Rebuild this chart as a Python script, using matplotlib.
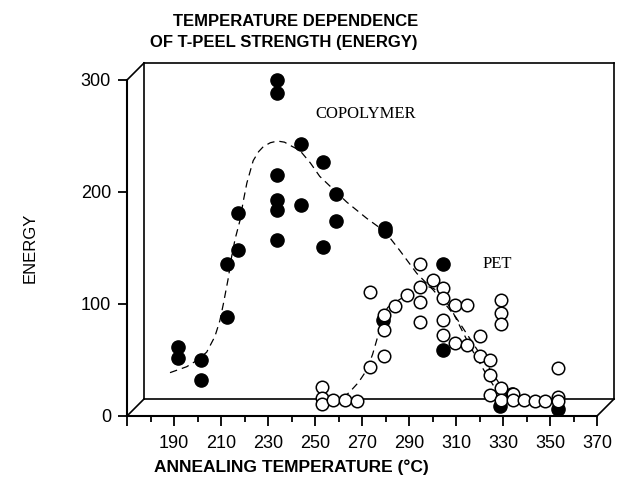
import matplotlib.pyplot as plt

plt.rcParams['font.family'] = ['Liberation Sans', 'DejaVu Sans']

# copolymer (filled circles)
copo_temp = [191.5, 191.5, 201.5, 201.5, 212.4, 212.4, 217.3, 217.3,
             233.7, 233.7, 233.7, 233.7, 233.7, 233.7, 244, 244,
             253.3, 253.3, 259, 259, 279.8, 279.8, 279, 304.6, 304.6,
             328.7, 334, 353.5]
copo_energy = [62, 52, 50, 32, 136, 88, 181, 148,
               300, 288, 215, 193, 184, 157, 243, 188,
               227, 151, 198, 174, 168, 165, 86, 136, 59,
               9, 20, 6]

# PET (open circles)
pet_temp = [252.8, 252.8, 252.8, 257.8, 262.8, 267.7, 273.4, 273.4,
            279.5, 279.5, 279.5, 284, 289, 294.7, 294.7, 294.7, 294.7,
            300.3, 304.6, 304.6, 304.6, 304.6, 309.6, 309.6, 314.6, 314.6,
            320.2, 320.2, 324.5, 324.5, 324.5, 329, 329, 329, 329, 329,
            334.2, 334.2, 339, 343.6, 348, 353.5, 353.5, 353.5]
pet_energy = [26, 16, 11, 14, 14, 13, 111, 44,
              90, 77, 54, 98, 108, 136, 115, 102, 84,
              121, 114, 105, 86, 72, 99, 65, 99, 63,
              71, 54, 50, 37, 19, 104, 92, 82, 25, 14,
              20, 14, 14, 13, 13, 43, 17, 13]

# dashed trend curves
copo_curve_t = [188.3, 195.4, 200, 203.9, 207.4, 209.5, 211, 213, 214.5, 216,
                218, 219.5, 221, 223.7, 226, 228, 231, 234, 237, 240, 243.6,
                248, 252, 258, 263.5, 272, 279.8, 286, 293.3, 300.3, 305,
                310, 315, 320, 325, 330, 334]
copo_curve_e = [38.7, 44, 50, 57, 71, 85, 100, 122, 142, 158,
                174, 192, 208, 228, 236, 240.5, 244, 245.5, 244.5, 241, 237,
                226, 214, 202, 191, 176.5, 164.6, 148, 127.4, 112.5, 101,
                88, 72, 56, 40, 24, 13]
pet_curve_t = [262, 265, 268.5, 272, 274.5, 276.3, 278, 279.5, 281, 283.3,
               286, 289, 292, 294.7, 297.5, 300.3, 302.5, 304.6, 306.8, 308.9,
               311.7, 314.6, 317.4, 320.2, 322.4, 324.5, 326.6, 328.7, 331.5, 334]
pet_curve_e = [16, 22, 30, 41, 55, 68, 82, 92, 97, 100.6,
               104, 108, 112, 115.4, 116, 114, 111, 106, 99, 91.7,
               80, 68, 57, 47, 39, 32, 25, 19, 15, 12]

xticks = list(range(170, 371, 20))
xlabels = [''] + [str(t) for t in range(190, 371, 20)]
yticks = [0, 100, 200, 300]

fig = plt.figure(figsize=(6.18, 4.83), dpi=100)
ax = fig.add_axes([127/618, 67/483, 470/618, 336/483])
ax.set_xlim(170, 370)
ax.set_ylim(0, 300)

for s in ['top', 'right']:
    ax.spines[s].set_visible(False)
for s in ['left', 'bottom']:
    ax.spines[s].set_linewidth(1.5)

# back panel of the pseudo 3d frame
dx, dy = 17/470, 17/336
edges = [[(dx, dy), (dx, 1+dy)], [(dx, 1+dy), (1+dx, 1+dy)],
         [(1+dx, 1+dy), (1+dx, dy)], [(dx, dy), (1+dx, dy)],
         [(0, 0), (dx, dy)], [(0, 1), (dx, 1+dy)], [(1, 0), (1+dx, dy)]]
for a, b in edges:
    ax.plot([a[0], b[0]], [a[1], b[1]], transform=ax.transAxes,
            clip_on=False, color='black', lw=1.2)

ax.plot(copo_curve_t, copo_curve_e, color='black', lw=0.9, ls=(0, (6, 4)), zorder=2)
ax.plot(pet_curve_t, pet_curve_e, color='black', lw=0.9, ls=(0, (6, 4)), zorder=2)
ax.plot(copo_temp, copo_energy, 'o', ms=9.5, mfc='black', mec='black',
        clip_on=False, zorder=3)
ax.plot(pet_temp, pet_energy, 'o', ms=9, mfc='white', mec='black', mew=1.1,
        clip_on=False, zorder=4)

ax.text(271.7, 269.6, 'COPOLYMER', family='Liberation Serif', fontsize=12,
        ha='center', va='center')
ax.text(327.4, 135.7, 'PET', family='Liberation Serif', fontsize=12,
        ha='center', va='center')

ax.set_xticks(xticks)
ax.set_xticklabels(xlabels)
ax.set_xticks(list(range(180, 361, 20)), minor=True)
ax.set_yticks(yticks)
ax.tick_params(axis='x', which='major', length=7, width=1.3, pad=7, labelsize=13)
ax.tick_params(axis='x', which='minor', length=4, width=1.3)
ax.tick_params(axis='y', which='major', length=6.5, width=1.3, pad=5, labelsize=13)

fig.text(418/618, 1 - 21/483, 'TEMPERATURE DEPENDENCE', fontsize=12,
         fontweight='bold', ha='right', va='center')
fig.text(150/618, 1 - 43/483, 'OF T-PEEL STRENGTH (ENERGY)', fontsize=12,
         fontweight='bold', ha='left', va='center')
fig.text(291/618, 1 - 467/483, 'ANNEALING TEMPERATURE (°C)', fontsize=12.5,
         fontweight='bold', ha='center', va='center')
fig.text(30/618, 1 - 248/483, 'ENERGY', fontsize=12, rotation=90,
         ha='center', va='center')

fig.savefig('out.png', dpi=100)
